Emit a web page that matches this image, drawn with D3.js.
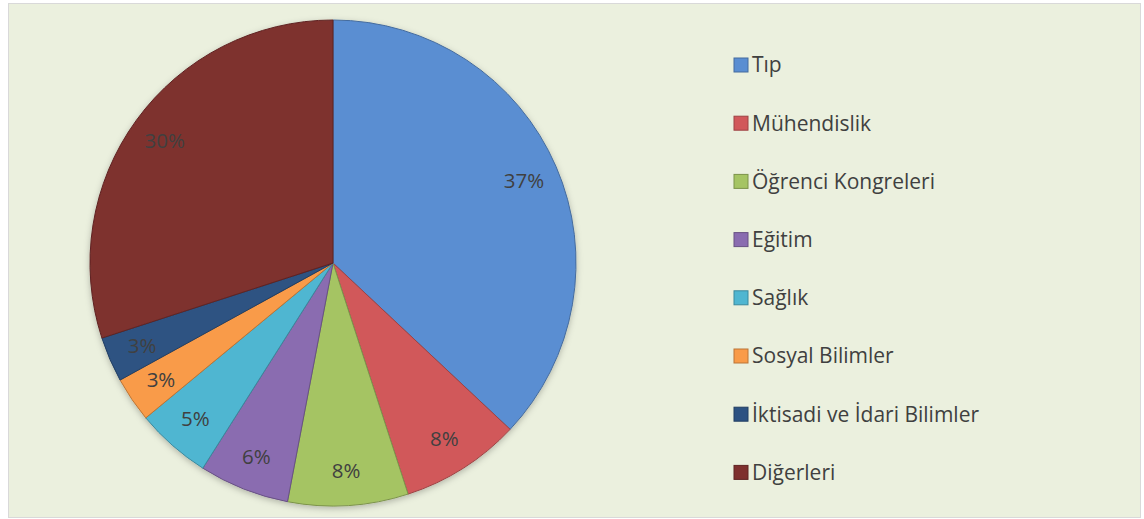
<!DOCTYPE html>
<html>
<head>
<meta charset="utf-8">
<script src="https://cdn.jsdelivr.net/npm/d3@7"></script>
<style>
  body { margin: 0; background: #fff; }
  text { font-family: "Open Sans", "Noto Sans", sans-serif; }
</style>
</head>
<body>
<div id="viz"></div>
<script>
// data
const categories = ["Tıp", "Mühendislik", "Öğrenci Kongreleri", "Eğitim", "Sağlık",
                    "Sosyal Bilimler", "İktisadi ve İdari Bilimler", "Diğerleri"];
const values = [37, 8, 8, 6, 5, 3, 3, 30];
const colors = ["#5a8ed2", "#d1585a", "#a5c463", "#8a6cb0", "#4fb6d1",
                "#f99b48", "#2d5282", "#7e302e"];

const width = 1144, height = 519;
const cx = 333, cy = 263, radius = 243;

const svg = d3.select("#viz")
  .append("svg")
    .attr("width", width)
    .attr("height", height);

// chart area background + frame
svg.append("rect")
  .attr("x", 8.5).attr("y", 3.5)
  .attr("width", 1132).attr("height", 514)
  .attr("fill", "#ebf0de")
  .attr("stroke", "#d9d9d9");

// soft shadow under the pie
const defs = svg.append("defs");
const shadow = defs.append("filter").attr("id", "shadow")
  .attr("x", "-10%").attr("y", "-10%").attr("width", "120%").attr("height", "120%");
shadow.append("feDropShadow")
  .attr("dx", 0).attr("dy", 2).attr("stdDeviation", 3)
  .attr("flood-color", "#000").attr("flood-opacity", 0.25);

const pie = d3.pie().sort(null).value(d => d);
const arcs = pie(values);
const arc = d3.arc().innerRadius(0).outerRadius(radius);
const labelArc = d3.arc().innerRadius(208).outerRadius(208);

const g = svg.append("g")
  .attr("transform", "translate(" + cx + "," + cy + ")");

g.append("g")
  .attr("filter", "url(#shadow)")
  .selectAll("path")
  .data(arcs)
  .join("path")
    .attr("d", arc)
    .attr("fill", (d, i) => colors[i])
    .attr("stroke", (d, i) => d3.color(colors[i]).darker(0.8))
    .attr("stroke-width", 1);

// percentage labels
g.selectAll("text.pct")
  .data(arcs)
  .join("text")
    .attr("class", "pct")
    .attr("transform", d => "translate(" + labelArc.centroid(d) + ")")
    .attr("text-anchor", "middle")
    .attr("dy", "0.35em")
    .attr("font-size", 20.5)
    .attr("fill", "#404040")
    .text(d => d.data + "%");

// legend
const legend = svg.append("g")
  .selectAll("g")
  .data(categories)
  .join("g")
    .attr("transform", (d, i) => "translate(734," + (65 + i * 58.2) + ")");

legend.append("rect")
  .attr("x", 0).attr("y", -7)
  .attr("width", 14).attr("height", 14)
  .attr("fill", (d, i) => colors[i])
  .attr("stroke", (d, i) => d3.color(colors[i]).darker(0.8));

legend.append("text")
  .attr("x", 18)
  .attr("dy", "0.35em")
  .attr("font-size", 21)
  .attr("fill", "#404040")
  .text(d => d);
</script>
</body>
</html>
